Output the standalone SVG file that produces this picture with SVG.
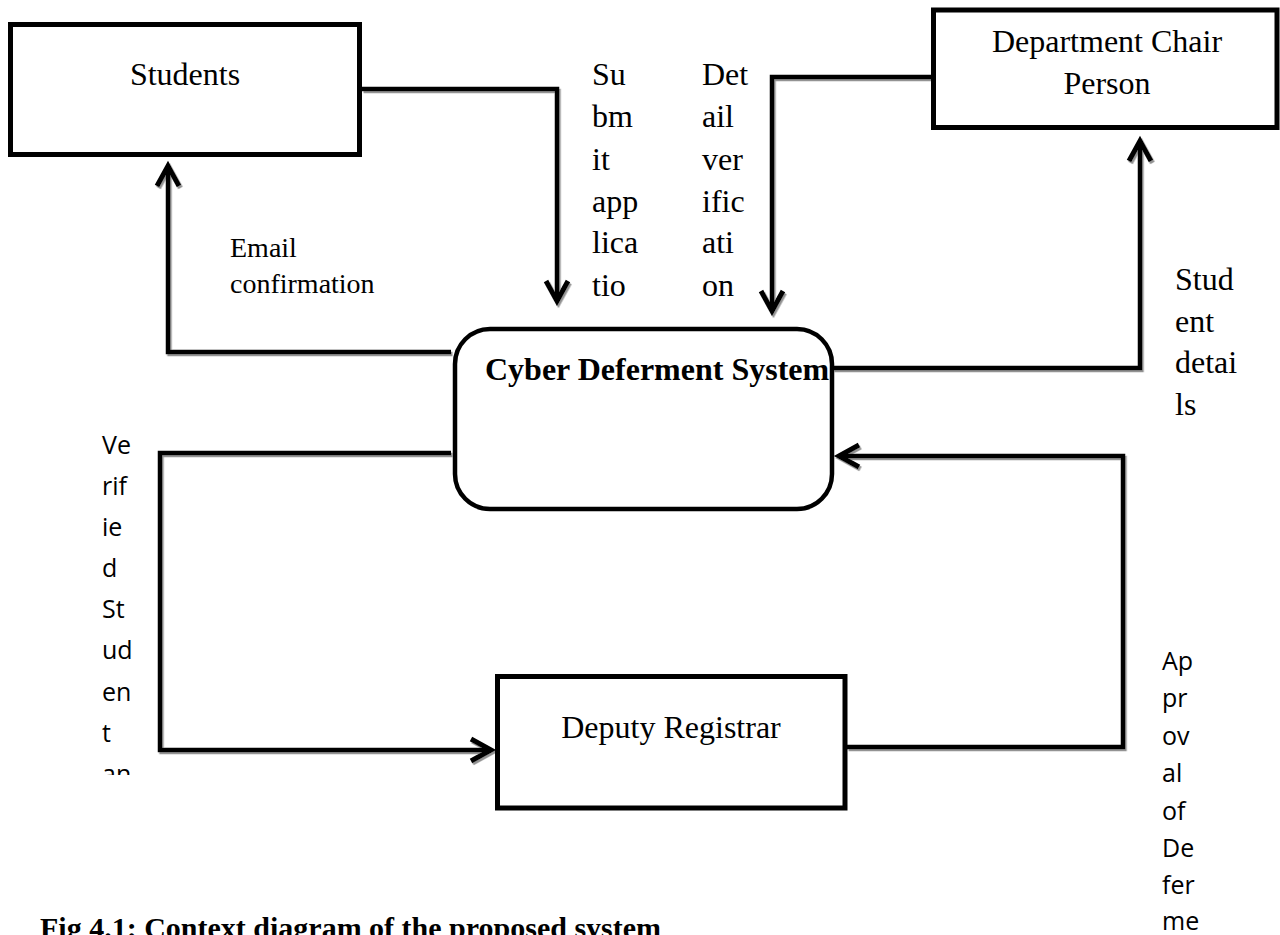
<svg xmlns="http://www.w3.org/2000/svg" width="1280" height="935" viewBox="0 0 1280 935">
  <defs>
    <style>
      .box { fill: #ffffff; stroke: #000000; stroke-width: 5; }
      .sys { fill: #ffffff; stroke: #000000; stroke-width: 4.5; }
      .name { font-family: "Liberation Serif", "Times New Roman", serif; font-size: 32px; fill: #000000; }
      .title { font-family: "Liberation Serif", "Times New Roman", serif; font-size: 32px; font-weight: bold; fill: #000000; }
      .lbl-serif { font-family: "Liberation Serif", "Times New Roman", serif; font-size: 32px; fill: #000000; }
      .lbl-email { font-family: "Liberation Serif", "Times New Roman", serif; font-size: 28px; fill: #000000; }
      .lbl-sans { font-family: "Open Sans", "Liberation Sans", sans-serif; font-size: 25px; fill: #000000; }
      .caption { font-family: "Liberation Serif", "Times New Roman", serif; font-size: 30px; font-weight: bold; fill: #000000; }
      .flow { fill: none; stroke: #000000; stroke-width: 4.5; stroke-linejoin: miter; marker-end: url(#chevron); }
    </style>
    <marker id="chevron" viewBox="-26 -16 32 32" refX="0" refY="0" markerWidth="32" markerHeight="32" markerUnits="userSpaceOnUse" orient="auto" overflow="visible">
      <path d="M -20 -11 L 0 0 L -20 11" fill="none" stroke="#000000" stroke-width="5" stroke-linejoin="miter"/>
    </marker>
    <filter id="shade" x="-5%" y="-5%" width="110%" height="110%">
      <feDropShadow dx="1.5" dy="2" stdDeviation="0.4" flood-color="#808080" flood-opacity="0.85"/>
    </filter>
    <clipPath id="cut-verified">
      <rect x="0" y="400" width="150" height="375"/>
    </clipPath>
  </defs>

  <rect x="0" y="0" width="1280" height="935" fill="#ffffff"/>

  <!-- data flows -->
  <g id="connectors" filter="url(#shade)">
    <path id="flow-submit" class="flow" d="M 362 89 H 557 V 301"/>
    <path id="flow-verification" class="flow" d="M 931 77 H 772 V 311"/>
    <path id="flow-email" class="flow" d="M 451 352 H 168 V 166"/>
    <path id="flow-details" class="flow" d="M 833 368 H 1140 V 141"/>
    <path id="flow-verified" class="flow" d="M 451 453 H 160 V 750 H 491"/>
    <path id="flow-approval" class="flow" d="M 847 747 H 1123 V 456 H 839"/>
  </g>

  <g id="students">
    <rect class="box" x="10.5" y="24.5" width="349" height="130"/>
    <text class="name" x="185" y="85" text-anchor="middle">Students</text>
  </g>

  <g id="department-chair">
    <rect class="box" x="933.5" y="10" width="343.5" height="117.5"/>
    <text class="name" x="1107" y="52" text-anchor="middle">Department Chair</text>
    <text class="name" x="1107" y="94" text-anchor="middle">Person</text>
  </g>

  <g id="cyber-deferment-system">
    <rect class="sys" x="455" y="329" width="377" height="180" rx="35" ry="35"/>
    <text class="title" x="485" y="380">Cyber Deferment System</text>
  </g>

  <g id="deputy-registrar">
    <rect class="box" x="497.5" y="676.5" width="347.5" height="131.5"/>
    <text class="name" x="671" y="738" text-anchor="middle">Deputy Registrar</text>
  </g>

  <!-- flow labels -->
  <g id="label-submit" class="lbl-serif">
    <text x="592" y="85">Su</text>
    <text x="592" y="127">bm</text>
    <text x="592" y="170">it</text>
    <text x="592" y="212">app</text>
    <text x="592" y="253">lica</text>
    <text x="592" y="296">tio</text>
  </g>

  <g id="label-verification" class="lbl-serif">
    <text x="702" y="85">Det</text>
    <text x="702" y="127">ail</text>
    <text x="702" y="170">ver</text>
    <text x="702" y="212">ific</text>
    <text x="702" y="253">ati</text>
    <text x="702" y="296">on</text>
  </g>

  <g id="label-details" class="lbl-serif">
    <text x="1175" y="290">Stud</text>
    <text x="1175" y="332">ent</text>
    <text x="1175" y="373">detai</text>
    <text x="1175" y="415">ls</text>
  </g>

  <g id="label-email" class="lbl-email">
    <text x="230" y="257">Email</text>
    <text x="230" y="293">confirmation</text>
  </g>

  <g id="label-verified" class="lbl-sans" clip-path="url(#cut-verified)">
    <text x="102" y="454">Ve</text>
    <text x="102" y="495">rif</text>
    <text x="102" y="536">ie</text>
    <text x="102" y="577">d</text>
    <text x="102" y="618">St</text>
    <text x="102" y="659">ud</text>
    <text x="102" y="701">en</text>
    <text x="102" y="742">t</text>
    <text x="102" y="783">an</text>
  </g>

  <g id="label-approval" class="lbl-sans">
    <text x="1162" y="670">Ap</text>
    <text x="1162" y="707">pr</text>
    <text x="1162" y="745">ov</text>
    <text x="1162" y="782">al</text>
    <text x="1162" y="820">of</text>
    <text x="1162" y="857">De</text>
    <text x="1162" y="894">fer</text>
    <text x="1162" y="930">me</text>
  </g>

  <text id="caption" class="caption" x="40" y="938">Fig 4.1: Context diagram of the proposed system</text>
</svg>
